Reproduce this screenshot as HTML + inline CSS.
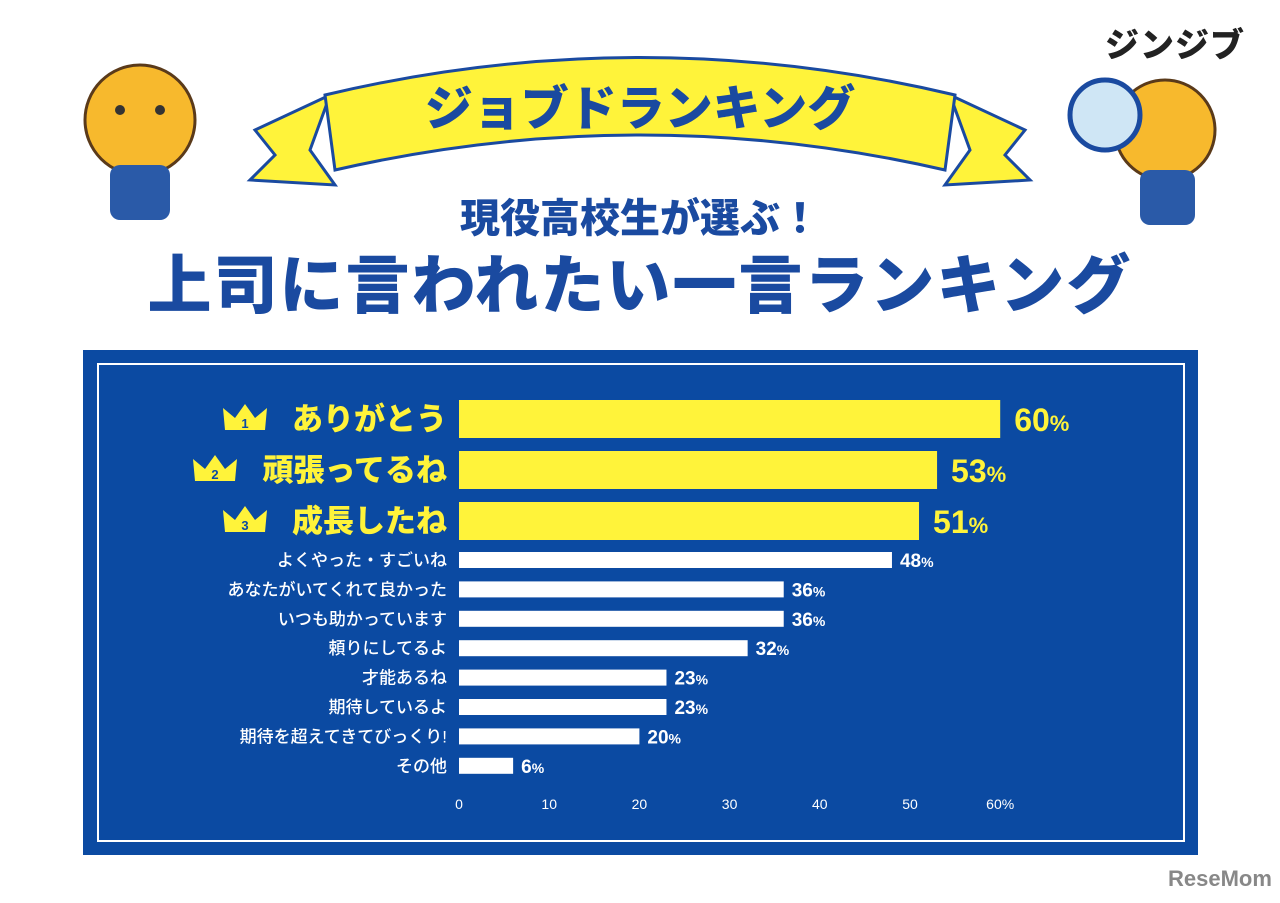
<!DOCTYPE html>
<html><head><meta charset="utf-8"><style>
body{margin:0;width:1280px;height:903px;background:#fff;overflow:hidden;font-family:"Liberation Sans","Noto Sans CJK JP",sans-serif;position:relative}
.abs{position:absolute}
</style></head><body>
<div class="abs" style="left:1105px;top:18px;font-size:34px;font-weight:900;color:#222;letter-spacing:1px">ジンジブ</div>
<svg class="abs" style="left:0;top:0" width="1280" height="350">
 <path d="M255,130 L330,95 L310,150 L335,185 L250,180 L275,155 Z" fill="#fff33a" stroke="#1a4aa0" stroke-width="3"/>
 <path d="M1025,130 L950,95 L970,150 L945,185 L1030,180 L1005,155 Z" fill="#fff33a" stroke="#1a4aa0" stroke-width="3"/>
 <path d="M325,95 Q640,20 955,95 L945,170 Q640,100 335,170 Z" fill="#fff33a" stroke="#1a4aa0" stroke-width="3"/>
 <text x="640" y="125" text-anchor="middle" font-size="48" font-weight="900" fill="#1a4aa0" font-family="Noto Sans CJK JP,sans-serif">ジョブドランキング</text>
 <g><circle cx="140" cy="120" r="55" fill="#f7b92d" stroke="#5a3a1a" stroke-width="3"/><rect x="110" y="165" width="60" height="55" rx="10" fill="#2a5aa8"/><circle cx="120" cy="110" r="5" fill="#333"/><circle cx="160" cy="110" r="5" fill="#333"/></g>
 <g><circle cx="1165" cy="130" r="50" fill="#f7b92d" stroke="#5a3a1a" stroke-width="3"/><rect x="1140" y="170" width="55" height="55" rx="10" fill="#2a5aa8"/><circle cx="1105" cy="115" r="35" fill="#cfe6f5" stroke="#1a4aa0" stroke-width="5"/></g>
</svg>
<div class="abs" style="left:0;width:1280px;top:186px;text-align:center;font-size:40px;font-weight:900;color:#1a4aa0">現役高校生が選ぶ！</div>
<div class="abs" style="left:125px;width:1030px;top:248px;text-align:center;font-size:64px;font-weight:900;color:#1a4aa0;letter-spacing:2px;line-height:76px">上司に言われたい一言ランキング</div>
<div class="abs" style="left:83px;top:350px;width:1115px;height:505px;background:#0b4aa2"></div>
<div class="abs" style="left:97px;top:363px;width:1084px;height:475px;border:2px solid #fff"></div>
<svg id="chart" class="abs" style="left:0;top:0" width="1280" height="903"></svg>
<script>
const categories=["ありがとう","頑張ってるね","成長したね","よくやった・すごいね","あなたがいてくれて良かった","いつも助かっています","頼りにしてるよ","才能あるね","期待しているよ","期待を超えてきてびっくり!","その他"];
const values=[60,53,51,48,36,36,32,23,23,20,6];
const ticks=[0,10,20,30,40,50,60];
const ns="http://www.w3.org/2000/svg",svg=document.getElementById('chart');
const x=v=>459+v*9.02;
const rowY=i=>i<3?400+i*51:552+(i-3)*29.4;
function mk(t,a){const e=document.createElementNS(ns,t);for(const k in a)e.setAttribute(k,a[k]);svg.appendChild(e);return e;}
categories.forEach((c,i)=>{
 const top=i<3,h=top?38:16,y=rowY(i);
 const r=mk('rect',{x:459,y:y,width:x(values[i])-459,height:h,fill:top?'#fff33a':'#fff'});
 
 
 const l=mk('text',{x:top?447:447,y:y+h/2+(top?11:6),'text-anchor':'end','font-size':top?31:17,'font-weight':top?900:500,fill:top?'#fff33a':'#fff'});
 l.textContent=c;
 
 
 if(top){
  const cx=top?[245,215,245][i]:0;
  const cr=mk('path',{d:`M${cx-20},${y+30} L${cx-22},${y+8} L${cx-10},${y+18} L${cx},${y+4} L${cx+10},${y+18} L${cx+22},${y+8} L${cx+20},${y+30} Z`,fill:'#fff33a'});
  
  
  const n=mk('text',{x:cx,y:y+28,'text-anchor':'middle','font-size':13,'font-weight':700,fill:'#0b4aa2'});n.textContent=i+1;
  
  
 }
 const v=mk('text',{x:x(values[i])+(top?14:8),y:y+h/2+(top?12:7),'font-size':top?32:19,'font-weight':900,fill:top?'#fff33a':'#fff'});
 v.innerHTML=values[i]+'<tspan font-size="'+(top?22:14)+'">%</tspan>';
 
 
});
ticks.forEach((t,i)=>{
 const e=mk('text',{x:x(t),y:809,'text-anchor':'middle','font-size':14,fill:'#fff'});
 e.textContent=t+(i==ticks.length-1?'%':'');
 
 
});
</script>
<div class="abs" style="left:1168px;top:866px;font-size:22px;font-weight:700;color:#888">ReseMom</div>
</body></html>
